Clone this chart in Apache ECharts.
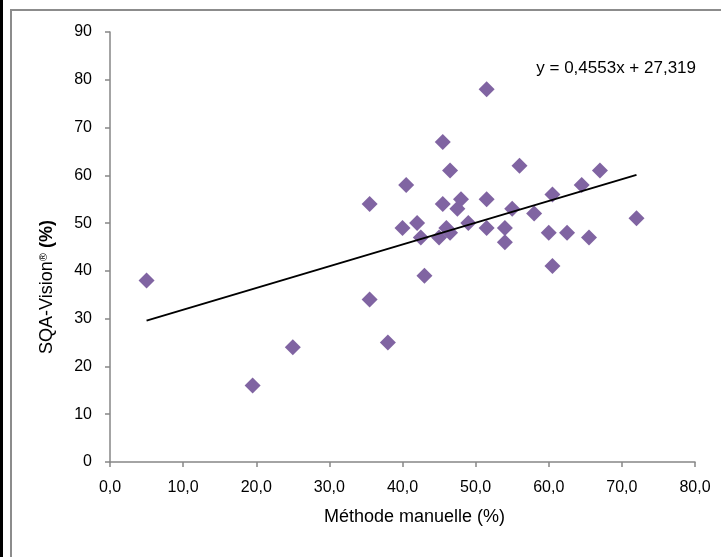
<!DOCTYPE html>
<html>
<head>
<meta charset="utf-8">
<title>SQA-Vision vs méthode manuelle</title>
<script src="https://cdn.jsdelivr.net/npm/echarts@6/dist/echarts.min.js"></script>
<style>
  html, body { margin: 0; padding: 0; background: #fff; }
  #chart { width: 721px; height: 557px; }
</style>
</head>
<body>
<div id="chart"></div>
<script>
// valeurs (x = méthode manuelle, y = SQA-Vision)
var manuelle = [5, 19.5, 25, 35.5, 35.5, 38, 40, 40.5, 42, 42.5, 43, 45, 45.5, 45.5, 46, 46.5, 46.5,
  47.5, 48, 49, 51.5, 51.5, 51.5, 54, 54, 55, 56, 58, 60, 60.5, 60.5, 62.5, 64.5, 65.5, 67, 72];
var sqaVision = [38, 16, 24, 34, 54, 25, 49, 58, 50, 47, 39, 47, 67, 54, 49, 61, 48,
  53, 55, 50, 78, 55, 49, 49, 46, 53, 62, 52, 48, 56, 41, 48, 58, 47, 61, 51];

// courbe de tendance affichée sur le graphique
var pente = 0.4553;
var ordonnee = 27.319;
var equation = 'y = 0,4553x + 27,319';

var xTicks = [0, 10, 20, 30, 40, 50, 60, 70, 80];
var yTicks = [0, 10, 20, 30, 40, 50, 60, 70, 80, 90];

var points = manuelle.map(function (x, i) { return [x, sqaVision[i]]; });
var xMin = Math.min.apply(null, manuelle);
var xMax = Math.max.apply(null, manuelle);
var tendance = [[xMin, pente * xMin + ordonnee], [xMax, pente * xMax + ordonnee]];

var police = '"Liberation Sans", "DejaVu Sans", sans-serif';
var axisGrey = '#868686';

var chart = echarts.init(document.getElementById('chart'));

var option = {
  animation: false,
  backgroundColor: '#fff',
  textStyle: { fontFamily: police },
  grid: {
    left: 110,
    right: 26,
    top: 32,
    bottom: 95
  },
  xAxis: {
    type: 'value',
    min: xTicks[0],
    max: xTicks[xTicks.length - 1],
    interval: xTicks[1] - xTicks[0],
    name: 'Méthode manuelle (%)',
    nameLocation: 'middle',
    nameGap: 46,
    nameTextStyle: { fontSize: 18, color: '#000', fontFamily: police, padding: [0, 0, 0, 24] },
    axisLine: { lineStyle: { color: axisGrey, width: 1.5 } },
    axisTick: { show: true, length: 5, lineStyle: { color: axisGrey, width: 1.5 } },
    axisLabel: {
      margin: 18,
      fontSize: 16,
      color: '#000',
      formatter: function (v) { return v.toFixed(1).replace('.', ','); }
    },
    splitLine: { show: false }
  },
  yAxis: {
    type: 'value',
    min: yTicks[0],
    max: yTicks[yTicks.length - 1],
    interval: yTicks[1] - yTicks[0],
    name: 'SQA-Vision{sup|®} {b|(%)}',
    nameLocation: 'middle',
    nameGap: 54,
    nameTextStyle: {
      fontSize: 18, color: '#000', fontFamily: police, padding: [0, 80, 0, 0],
      rich: {
        sup: { fontSize: 11, color: '#000', fontFamily: police, verticalAlign: 'top', padding: [0, 0, 6, 0] },
        b: { fontSize: 18, fontWeight: 'bold', color: '#000', fontFamily: police }
      }
    },
    axisLine: { show: true, lineStyle: { color: axisGrey, width: 1.5 } },
    axisTick: { show: true, length: 5, lineStyle: { color: axisGrey, width: 1.5 } },
    axisLabel: { margin: 18, fontSize: 16, color: '#000' },
    splitLine: { show: false }
  },
  series: [
    {
      type: 'scatter',
      data: points,
      symbol: 'diamond',
      symbolSize: 16,
      itemStyle: { color: '#8064A2', opacity: 1 },
      z: 3
    },
    {
      type: 'line',
      data: tendance,
      symbol: 'none',
      lineStyle: { color: '#000', width: 2 },
      z: 4
    }
  ],
  graphic: [
    {
      type: 'rect',
      shape: { x: 11, y: 10, width: 800, height: 700 },
      style: { fill: 'none', stroke: '#8c8c8c', lineWidth: 2 },
      z: -1
    },
    {
      type: 'rect',
      shape: { x: 0, y: 0, width: 3, height: 557 },
      style: { fill: '#000' }
    },
    {
      type: 'text',
      right: 25,
      top: 60,
      style: { text: equation, fontSize: 17, fill: '#000', fontFamily: police }
    }
  ]
};

chart.setOption(option);
</script>
</body>
</html>
